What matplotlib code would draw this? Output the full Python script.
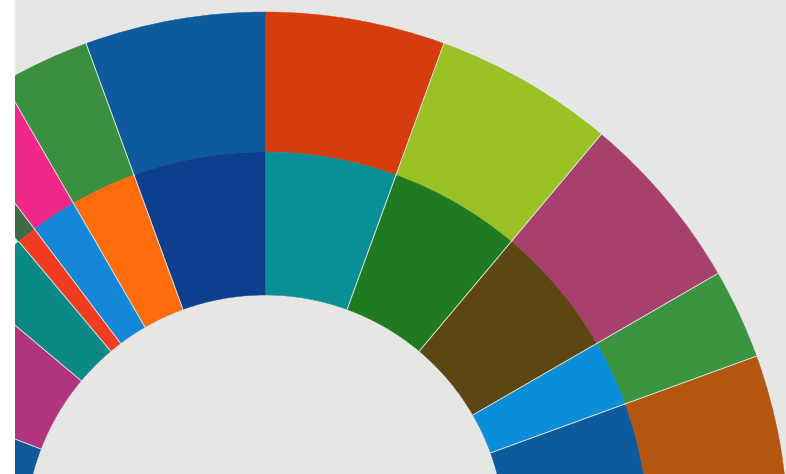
import numpy as np
import matplotlib
matplotlib.use("Agg")
import matplotlib.pyplot as plt
from matplotlib.patches import Wedge

# angular spans (degrees) of each ring, counter-clockwise from the right
outer_spans = [20, 10, 20, 20, 20, 20, 10, 7, 3]
outer_colors = ["#b4560f", "#3a9440", "#a8406e", "#9bc224", "#d63c0e",
                "#0e5a9e", "#3b9040", "#f0288a", "#3d6b45"]

inner_spans = [20, 10, 20, 20, 20, 20, 10, 7, 3, 10, 19, 21]
inner_colors = ["#0d5a9c", "#0b8eda", "#5c4712", "#207a22", "#0b8f97",
                "#0d3f8e", "#ff6c0c", "#1487d8", "#f23c21", "#0b8a85",
                "#b0357e", "#0e5a9a"]

bg = "#e6e6e5"
center = (265, -61)
r_hole, r_mid, r_out = 240, 383, 523

fig = plt.figure(figsize=(7.86, 4.74), dpi=100, facecolor="white")
ax = fig.add_axes([15 / 786, 0, 771 / 786, 1])
ax.set_facecolor(bg)
ax.set_xlim(15, 786)
ax.set_ylim(0, 474)
ax.set_aspect("equal")
ax.axis("off")
ax.add_patch(plt.Rectangle((15, 0), 771, 474, color=bg, zorder=0))


def draw_ring(spans, colors, r0, r1):
    edges = np.concatenate([[0], np.cumsum(spans)])
    for a, b, c in zip(edges[:-1], edges[1:], colors):
        ax.add_patch(Wedge(center, r1, a, b, width=r1 - r0, facecolor=c,
                           edgecolor=c, linewidth=0.3, zorder=2))
    # thin light separators, none on the vertical split
    for a in edges[1:-1]:
        if a == 90:
            continue
        t = np.deg2rad(a)
        ax.plot([center[0] + r0 * np.cos(t), center[0] + r1 * np.cos(t)],
                [center[1] + r0 * np.sin(t), center[1] + r1 * np.sin(t)],
                color="#dfe6e0", lw=0.7, zorder=3)


draw_ring(outer_spans, outer_colors, r_mid, r_out)
draw_ring(inner_spans, inner_colors, r_hole, r_mid)

fig.savefig("out.png", dpi=100, facecolor=fig.get_facecolor())
